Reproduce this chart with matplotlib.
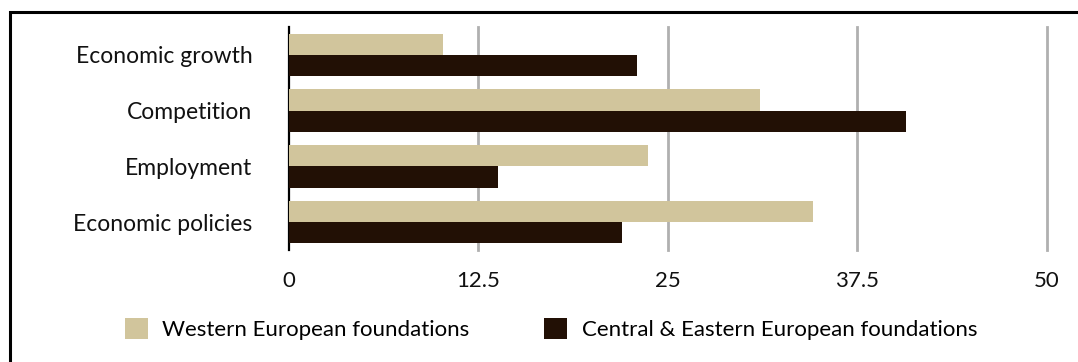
import matplotlib
matplotlib.use("Agg")
import matplotlib.pyplot as plt
from matplotlib.patches import Rectangle, Patch
import numpy as np

categories = ["Economic growth", "Competition", "Employment", "Economic policies"]
western = [10.2, 31.1, 23.7, 34.6]
central_eastern = [23.0, 40.7, 13.8, 22.0]
x_ticks = [0, 12.5, 25, 37.5, 50]
x_tick_labels = ["0", "12.5", "25", "37.5", "50"]
series_names = ["Western European foundations", "Central & Eastern European foundations"]

TAN = "#D1C59C"
DARK = "#221005"
GRID = "#B0B0B0"
FS = 16

plt.rcParams["font.family"] = ["Lato", "DejaVu Sans"]

W, H = 1078, 362
fig = plt.figure(figsize=(W / 100, H / 100), dpi=100)
ax = fig.add_axes([288.7 / W, 1 - 250 / H, (1046.7 - 288.7) / W, 223 / H])

y = np.arange(len(categories))
h = 0.38
ax.barh(y - h / 2, western, height=h, color=TAN, zorder=3)
ax.barh(y + h / 2, central_eastern, height=h, color=DARK, zorder=3)

ax.set_xlim(0, 50)
ax.set_ylim(3.5, -0.5)

for xv in x_ticks[1:]:
    ax.axvline(xv, color=GRID, lw=2, zorder=1, clip_on=False)

ax.set_yticks(y)
ax.set_yticklabels(categories, fontsize=16.5, color="#111111")
ax.set_xticks(x_ticks)
ax.set_xticklabels(x_tick_labels, fontsize=FS, color="#111111")
ax.tick_params(axis="both", length=0)
ax.tick_params(axis="y", pad=26)
ax.tick_params(axis="x", pad=15)

for side in ["top", "right", "bottom"]:
    ax.spines[side].set_visible(False)
ax.spines["left"].set_linewidth(1.6)
ax.spines["left"].set_color("black")

handles = [Patch(facecolor=TAN, label=series_names[0]),
           Patch(facecolor=DARK, label=series_names[1])]
fig.legend(handles=handles, loc="center", bbox_to_anchor=(551 / W, 1 - 329 / H),
           ncol=2, frameon=False, fontsize=FS, handlelength=1.05, handleheight=1.05,
           columnspacing=3.35, handletextpad=0.65)

# outer frame
fig.patches.append(Rectangle((10 / W, -0.1), 1.2, 1 - 12 / H + 0.1, transform=fig.transFigure,
                             fill=False, edgecolor="black", lw=2.2))

fig.savefig("out.png", dpi=100)
